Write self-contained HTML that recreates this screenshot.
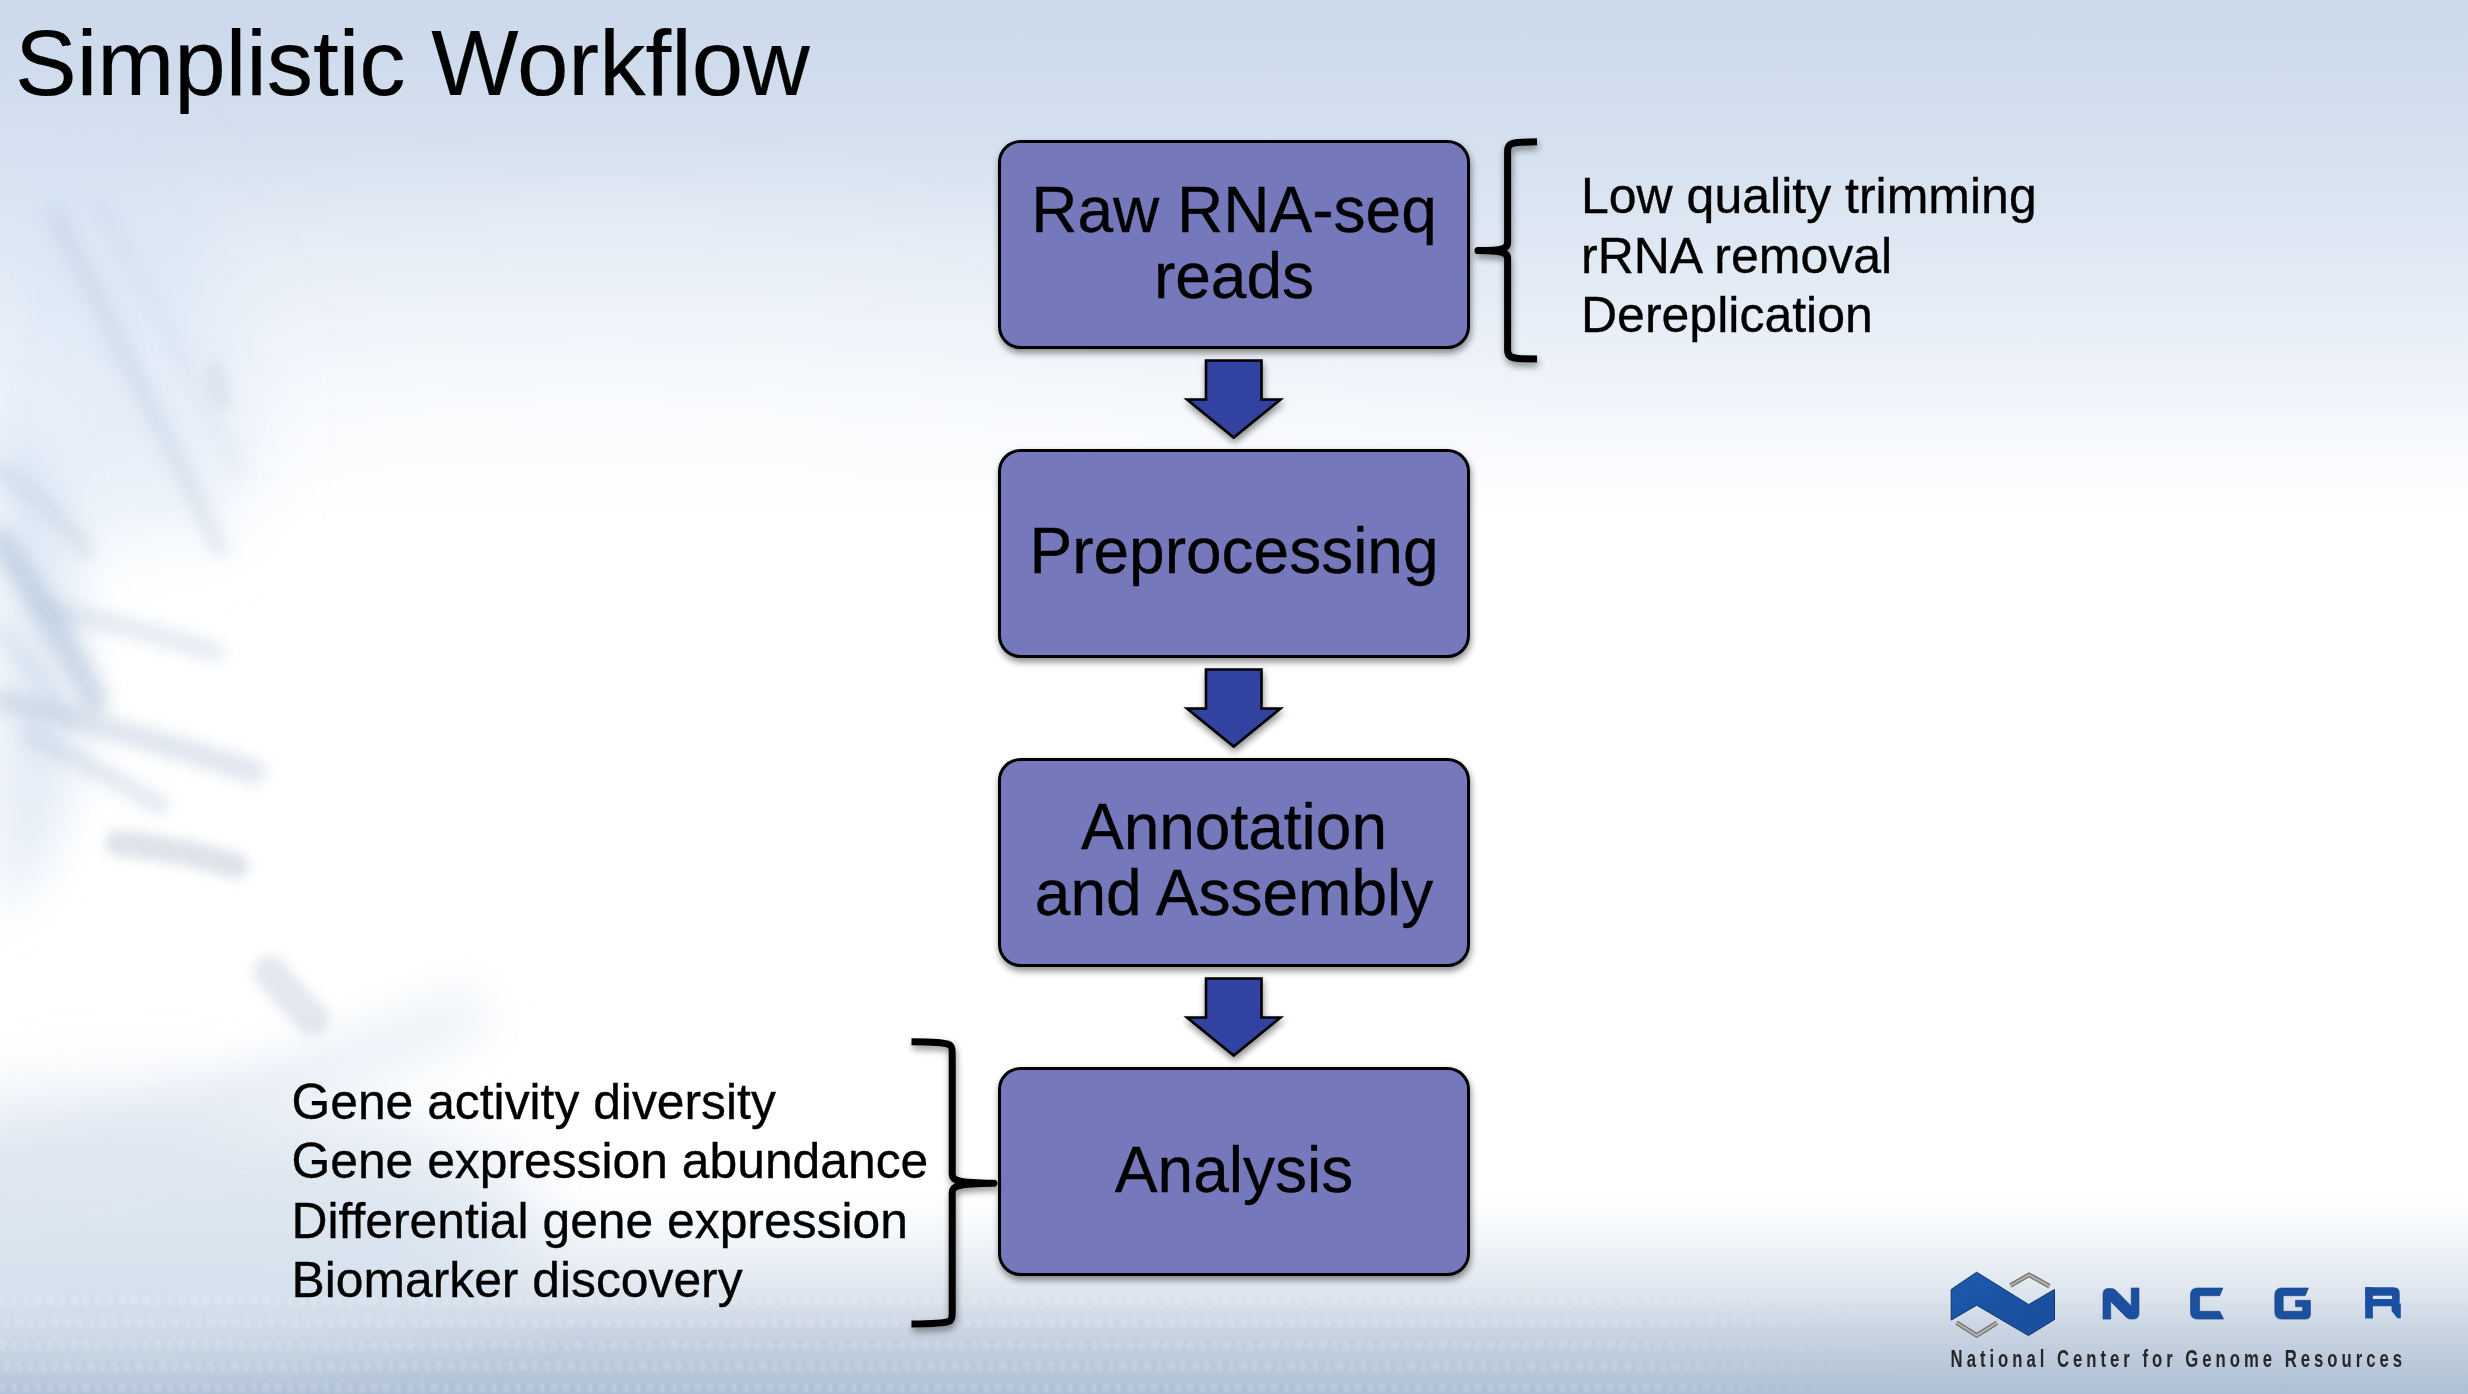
<!DOCTYPE html>
<html><head><meta charset="utf-8"><title>Simplistic Workflow</title>
<style>
html,body{margin:0;padding:0;}
body{width:2468px;height:1394px;overflow:hidden;position:relative;font-family:"Liberation Sans",sans-serif;color:#000;
background:linear-gradient(180deg,#ccd9eb 0px,#d3dfee 120px,#e4ecf6 300px,#f5f8fc 430px,#ffffff 520px,#ffffff 1195px,#f5f8fb 1230px,#ebf0f6 1258px,#e1e8f0 1285px,#d7e0ea 1305px,#cad5e3 1330px,#bccadb 1360px,#aebfd6 1394px);}
#bg{position:absolute;left:0;top:0;width:2468px;height:1394px;}
.t{position:absolute;white-space:pre;line-height:1;-webkit-text-stroke:0.35px #000;}
#title{-webkit-text-stroke:0.2px #000;}
</style></head>
<body>
<svg id="bg" width="2468" height="1394" viewBox="0 0 2468 1394">
<defs>
<linearGradient id="digfade" x1="0" y1="0" x2="1" y2="0">
<stop offset="0" stop-color="#fff" stop-opacity="0.55"/>
<stop offset="0.66" stop-color="#fff" stop-opacity="0.5"/>
<stop offset="0.775" stop-color="#fff" stop-opacity="0"/>
</linearGradient>
<mask id="dm"><rect x="0" y="1270" width="2468" height="124" fill="url(#digfade)"/></mask>
<radialGradient id="lw" cx="0" cy="0.5" r="1">
<stop offset="0" stop-color="#b8cde0" stop-opacity="0.55"/>
<stop offset="1" stop-color="#b8cde0" stop-opacity="0"/>
</radialGradient>
<filter id="b8" x="-50%" y="-50%" width="200%" height="200%"><feGaussianBlur stdDeviation="8"/></filter>
<filter id="b4"><feGaussianBlur stdDeviation="4"/></filter>
<filter id="b6" x="-50%" y="-50%" width="200%" height="200%"><feGaussianBlur stdDeviation="6"/></filter>
<filter id="bd"><feGaussianBlur stdDeviation="0.9"/></filter>
<filter id="b20" x="-100%" y="-100%" width="300%" height="300%"><feGaussianBlur stdDeviation="25"/></filter>
<filter id="b40" x="-100%" y="-100%" width="300%" height="300%"><feGaussianBlur stdDeviation="40"/></filter>
</defs>
<radialGradient id="glow" cx="0.5" cy="0.5" r="0.5">
<stop offset="0" stop-color="#fff" stop-opacity="0.55"/>
<stop offset="0.6" stop-color="#fff" stop-opacity="0.25"/>
<stop offset="1" stop-color="#fff" stop-opacity="0"/>
</radialGradient>
<ellipse cx="600" cy="430" rx="1000" ry="300" fill="url(#glow)"/>
<g id="dna">
<path d="M0,150 L160,170 C230,260 260,380 240,520 L0,560 Z" fill="#d4e3f4" opacity="0.5" filter="url(#b40)"/>
<ellipse cx="120" cy="1230" rx="420" ry="130" fill="#d3dfec" opacity="0.75" filter="url(#b40)"/>
<path d="M0,1180 C150,1130 300,1080 480,1010" stroke="#dbe5f0" stroke-width="40" fill="none" opacity="0.7" filter="url(#b20)"/>
<path d="M0,400 C40,430 70,520 80,640 C85,760 60,860 0,920 Z" fill="#c9daee" opacity="0.55" filter="url(#b20)"/>
<g filter="url(#b8)" fill="none" stroke-linecap="round">
<path d="M55,215 C110,330 170,440 220,550" stroke="#b4c3d6" stroke-width="14" opacity="0.4"/>
<path d="M100,205 C150,300 200,390 240,470" stroke="#b4c3d6" stroke-width="9" opacity="0.22"/>
<path d="M0,540 C35,590 65,640 95,700" stroke="#a9bdd4" stroke-width="26" opacity="0.5"/>
<path d="M0,700 C80,720 170,745 255,772" stroke="#b3c4d9" stroke-width="22" opacity="0.45"/>
<path d="M36,606 C90,618 150,632 215,652" stroke="#bac9db" stroke-width="18" opacity="0.4"/>
<path d="M30,735 C70,755 115,780 160,805" stroke="#b3c4d9" stroke-width="18" opacity="0.4"/>
<path d="M0,470 C30,490 60,515 85,550" stroke="#b8c8da" stroke-width="16" opacity="0.4"/>
<path d="M0,630 C25,660 50,690 70,720" stroke="#c0cfe0" stroke-width="14" opacity="0.4"/>
</g>
<g filter="url(#b6)" stroke="#9aabc2" fill="none" stroke-linecap="round" opacity="0.33">
<path d="M118,843 C160,847 200,855 236,866" stroke-width="26"/>
<path d="M270,972 C285,990 298,1005 312,1018" stroke-width="34" opacity="0.8"/>
<path d="M215,370 C218,380 220,390 222,400" stroke-width="18" opacity="0.5"/>
</g>
</g>
<g mask="url(#dm)" filter="url(#bd)" font-family="Liberation Mono" font-size="13.5" font-weight="bold" fill="#fff" letter-spacing="3.9" opacity="0.45">
<text x="-2" y="1304.5">1110010011000110000000011100110011101101000101100000011110011011010000001100100110110011000100001101110000001110101001000001101000010111110000101000011100001100</text>
<text x="3" y="1327">1011000111000101100011001101010101100000111111100101000111011000111011101001010001100100111011111100101110011001000010100011001000110100110110011110000010111010</text>
<text x="-2" y="1349.5">0111110001001010110011011101011010010010100011110110111100101000000011101010101011000000101100000000110110010001101001000100000001000100111111010000111110000101</text>
<text x="3" y="1371">0111001011101000111001001110100110010000111001001111101001011010111111111111000001101101001110001000011000100110111110100101111010000000111000010000111101110001</text>
<text x="-2" y="1392">0111101011011011001111001001111001110111111101001101110110000110000101010101010000100111111101100110101010011000101011110110100010101000100101011011111101010001</text>
</g>
</svg>
<div class="t" id="title" style="left:15px;top:16.5px;font-size:92.5px;">Simplistic Workflow</div>
<svg id="fg" width="2468" height="1394" viewBox="0 0 2468 1394" style="position:absolute;left:0;top:0;">
<defs>
<filter id="sh" x="-10%" y="-10%" width="130%" height="140%">
<feGaussianBlur in="SourceAlpha" stdDeviation="3.5"/>
<feOffset dx="1" dy="4" result="b"/>
<feComponentTransfer><feFuncA type="linear" slope="0.45"/></feComponentTransfer>
<feMerge><feMergeNode/><feMergeNode in="SourceGraphic"/></feMerge>
</filter>
</defs>
<g filter="url(#sh)">
<rect x="999.5" y="141.5" width="469" height="206" rx="21" fill="#7579bb" stroke="#000" stroke-width="3"/>
<rect x="999.5" y="450.5" width="469" height="206" rx="21" fill="#7579bb" stroke="#000" stroke-width="3"/>
<rect x="999.5" y="759.5" width="469" height="206" rx="21" fill="#7579bb" stroke="#000" stroke-width="3"/>
<rect x="999.5" y="1068.5" width="469" height="206" rx="21" fill="#7579bb" stroke="#000" stroke-width="3"/>
</g>
<g filter="url(#sh)" fill="#3243a0" stroke="#000" stroke-width="2.6">
<path d="M1206,360.5 H1261.5 V399.5 H1280.5 L1233.7,437.5 L1187,399.5 H1206 Z"/>
<path d="M1206,669.5 H1261.5 V708.5 H1280.5 L1233.7,746.5 L1187,708.5 H1206 Z"/>
<path d="M1206,978.5 H1261.5 V1017.5 H1280.5 L1233.7,1055.5 L1187,1017.5 H1206 Z"/>
</g>
<g filter="url(#sh)" fill="none" stroke="#000" stroke-width="7" stroke-linecap="butt">
<path d="M1537,141.8 L1522,142.2 C1511,142.6 1507.6,144.5 1507.6,151 L1507.6,243 C1507.6,248.5 1503,250.3 1478,250.6 C1503,250.9 1507.6,252.7 1507.6,258 L1507.6,350 C1507.6,356.5 1511,358.3 1522,358.7 L1537,359" stroke-linejoin="round"/>
<path d="M911.5,1041.8 C932,1041.8 945,1042.6 949.5,1044.8 C951.6,1046 952.2,1048.5 952.2,1053 L952.2,1174 C952.2,1180.5 957,1183 994,1183.3 C957,1183.6 952.2,1186 952.2,1192.5 L952.2,1313 C952.2,1317.5 951.6,1320 949.5,1321.2 C945,1323.4 932,1324 911.5,1324" stroke-linejoin="round"/>
</g>
</svg>
<div class="t" style="left:1000px;top:0;width:468px;text-align:center;font-size:64px;line-height:66px;top:177px;">Raw RNA-seq
reads</div>
<div class="t" style="left:1000px;width:468px;text-align:center;font-size:64px;line-height:66px;top:518px;">Preprocessing</div>
<div class="t" style="left:1000px;width:468px;text-align:center;font-size:64px;line-height:66.5px;top:793.5px;">Annotation
and Assembly</div>
<div class="t" style="left:1000px;width:468px;text-align:center;font-size:64px;line-height:66px;top:1137px;">Analysis</div>
<div class="t" style="left:1581px;top:167px;font-size:50px;line-height:59.5px;">Low quality trimming
rRNA removal
Dereplication</div>
<div class="t" style="left:291.5px;top:1073px;font-size:49.8px;line-height:59.4px;">Gene activity diversity
Gene expression abundance
Differential gene expression
Biomarker discovery</div>
<svg id="logo" width="2468" height="1394" viewBox="0 0 2468 1394" style="position:absolute;left:0;top:0;">
<defs>
<linearGradient id="lb" x1="0" y1="0" x2="1" y2="1">
<stop offset="0" stop-color="#1e5bae"/>
<stop offset="0.5" stop-color="#1a52a2"/>
<stop offset="1" stop-color="#1c4e9e"/>
</linearGradient>
</defs>
<path d="M1951.2,1289.4 L1976.7,1272.2 L2028.7,1304.6 L2054.5,1289.4 L2054.5,1319.5 L2028.4,1335.6 L1976.7,1305.2 L1951.2,1320.1 Z" fill="url(#lb)" stroke="#12336a" stroke-width="1"/>
<g fill="none" stroke-linejoin="miter">
<path d="M2010.5,1285.6 L2029,1274.8 L2049.5,1286.2" stroke="#6f6c69" stroke-width="4.6"/>
<path d="M2010.5,1285.6 L2029,1274.8 L2049.5,1286.2" stroke="#b4b0aa" stroke-width="2.2"/>
<path d="M1956.5,1322.6 L1976.7,1335.4 L1997,1322.8" stroke="#6f6c69" stroke-width="4.6"/>
<path d="M1956.5,1322.6 L1976.7,1335.4 L1997,1322.8" stroke="#b4b0aa" stroke-width="2.2"/>
</g>

<g fill="#1b50a0" stroke="#173f80" stroke-width="0.6">
<path d="M2103,1319.1 L2103,1294 Q2103,1288.5 2108.5,1288.5 L2111.5,1288.5 Q2114,1288.5 2116,1290.5 L2131.2,1306 L2131.2,1288 L2139,1288 L2139,1313 Q2139,1319.1 2133,1319.1 L2130.5,1319.1 Q2128,1319.1 2126,1317 L2110.7,1301.5 L2110.7,1319.1 Z"/>
<path d="M2222.9,1288 L2197.5,1288 Q2190.5,1288 2190.5,1295 L2190.5,1312.1 Q2190.5,1319.1 2197.5,1319.1 L2223.6,1319.1 L2219.7,1311.3 L2199.6,1311.3 L2199.6,1295.7 L2219.7,1295.7 Z"/>
<path d="M2308.5,1288 L2281.8,1288 Q2274.8,1288 2274.8,1295 L2274.8,1312.1 Q2274.8,1319.1 2281.8,1319.1 L2305.4,1319.1 Q2310.4,1319.1 2310.4,1314.1 L2310.4,1300.3 L2295.5,1300.3 L2295.5,1306.8 L2302.6,1306.8 L2302.6,1311.3 L2283.2,1311.3 L2283.2,1295.7 L2305.2,1295.7 Z"/>
</g>
<g fill="#1b50a0">
<rect x="2365.2" y="1287.2" width="7.7" height="31.3"/>
<path d="M2365.2,1287.2 H2393.5 Q2399.7,1287.2 2399.7,1293.4 V1301 H2392.1 V1295.8 H2365.2 Z"/>
<path d="M2365.2,1299 H2397.2 L2399.7,1301 V1303 L2397,1306.2 H2365.2 Z"/>
<path d="M2391.6,1305 L2395.5,1303.4 L2400.8,1303.4 V1318.3 H2397.4 L2391.6,1311 Z"/>
</g>
<text x="0" y="0" transform="translate(1950.6,1366.6) scale(0.72,1)" font-family="Liberation Sans" font-weight="bold" font-size="23.2" fill="#272727" textLength="627" lengthAdjust="spacing">National Center for Genome Resources</text>
</svg>
</body></html>
